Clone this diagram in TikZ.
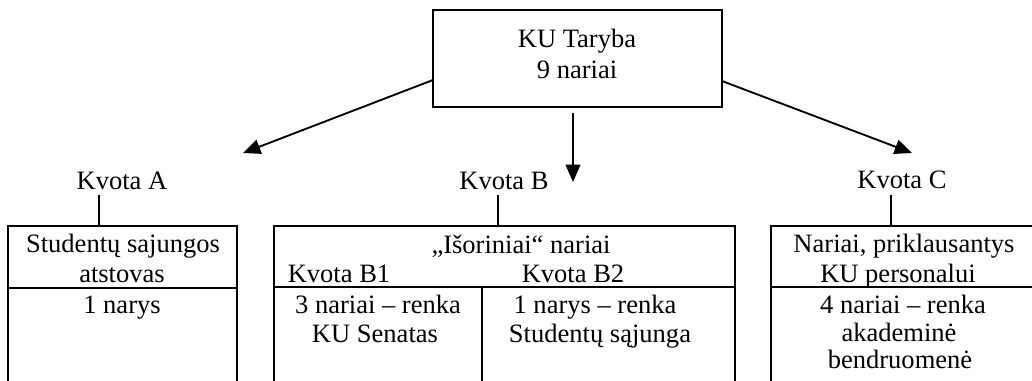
\documentclass[tikz,border=0pt]{standalone}
\usepackage{fontspec}
\setmainfont{Liberation Serif}
\usetikzlibrary{arrows.meta}
\begin{document}
\begin{tikzpicture}[x=0.75pt,y=-0.75pt,
  txt/.style={anchor=base,inner sep=0pt,font=\fontsize{19.9}{23}\selectfont},
  boxline/.style={line width=1.6pt},
  arr/.style={line width=1.4pt,-{Triangle[length=13pt,width=11pt]}}]
\useasboundingbox (0,0) rectangle (1032,380);
\clip (0,0) rectangle (1032,380);
% top box
\node[draw,line width=1pt,minimum width=216.75pt,minimum height=72.75pt,inner sep=0pt] (top) at (577.5,58.5) {};
\node[txt] (t1) at (577,47) {KU Taryba};
\node[txt] (t2) at (577,78) {9 nariai};
% arrows
\coordinate (la) at (433,80);  \coordinate (lt) at (243,153);
\coordinate (ma) at (573,113); \coordinate (mt) at (573,182);
\coordinate (ra) at (722,81);  \coordinate (rt) at (912,153);
\draw[arr] (la) -- (lt);
\draw[arr] (ma) -- (mt);
\draw[arr] (ra) -- (rt);
% quota labels
\node[txt] (kA) at (122,189) {Kvota A};
\node[txt] (kB) at (504,189) {Kvota B};
\node[txt] (kC) at (902,188) {Kvota C};
\coordinate (kAa) at (99,195);  \coordinate (kAb) at (99,226);
\coordinate (kBa) at (498,195); \coordinate (kBb) at (498,226);
\coordinate (kCa) at (891,195); \coordinate (kCb) at (891,226);
\draw[boxline] (kAa) -- (kAb);
\draw[boxline] (kBa) -- (kBb);
\draw[boxline] (kCa) -- (kCb);
% box A
\draw[boxline] (8,400) -- (8,226) -- (237,226) -- (237,400);
\draw[boxline] (8,288) -- (237,288);
\node[txt] (a1) at (123,252) {Studentų sajungos};
\node[txt] (a2) at (122,282) {atstovas};
\node[txt] (a3) at (122,313) {1 narys};
% box B
\draw[boxline] (274,400) -- (274,226) -- (735,226) -- (735,400);
\draw[boxline] (274,287) -- (735,287);
\draw[boxline] (482,287) -- (482,400);
\node[txt] (b0) at (521,253) {„Išoriniai“ nariai};
\node[txt] (b1) at (339,282) {Kvota B1};
\node[txt] (b2) at (573,282) {Kvota B2};
\node[txt] (b3) at (378,313) {3 nariai – renka};
\node[txt] (b4) at (375,342) {KU Senatas};
\node[txt] (b5) at (595,313) {1 narys – renka};
\node[txt] (b6) at (600,342) {Studentų sąjunga};
% box C
\draw[boxline] (771,400) -- (771,226) -- (1040,226);
\draw[boxline] (771,287) -- (1040,287);
\node[txt] (c1) at (904,252) {Nariai, priklausantys};
\node[txt] (c2) at (898,282) {KU personalui};
\node[txt] (c3) at (903,313) {4 nariai – renka};
\node[txt] (c4) at (899,341) {akademinė};
\node[txt] (c5) at (900,368) {bendruomenė};
\end{tikzpicture}
\end{document}
